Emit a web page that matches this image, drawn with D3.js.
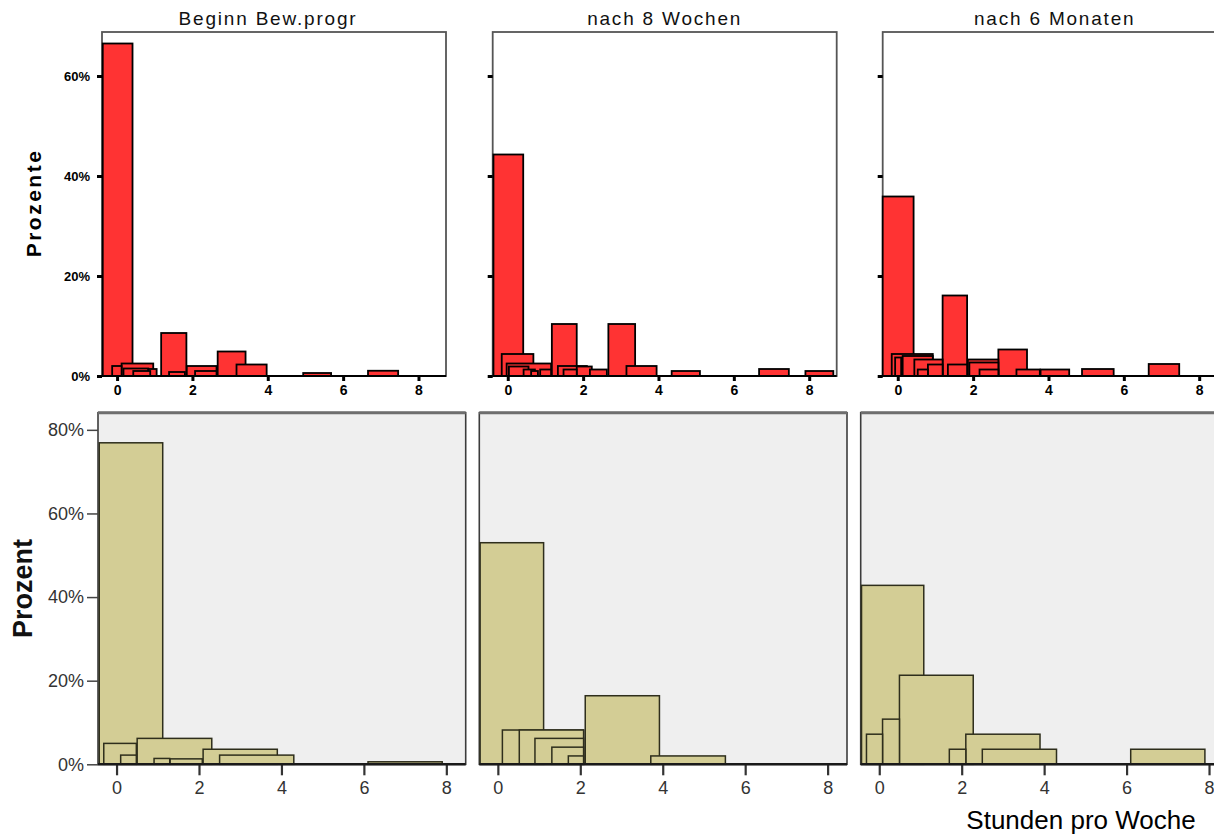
<!DOCTYPE html>
<html>
<head>
<meta charset="utf-8">
<script src="https://cdn.jsdelivr.net/npm/d3@7"></script>
<style>
  html, body { margin: 0; padding: 0; background: #fff; }
  svg { display: block; }
</style>
</head>
<body>
<svg id="chart" width="1214" height="835"></svg>
<script>
// ---------- DATA (hours per week bins: [from, to, percent]) ----------
const panelTitles = ["Beginn Bew.progr", "nach 8 Wochen", "nach 6 Monaten"];

const topBegin = [
  [-0.38, 0.41, 66.5], [1.17, 1.84, 8.6], [2.67, 3.41, 4.9], [0.12, 0.96, 2.5],
  [3.17, 3.97, 2.3], [-0.13, 0.12, 2.0], [1.85, 2.64, 2.0], [0.17, 0.83, 1.5],
  [0.83, 1.05, 1.4], [0.43, 0.88, 1.0], [2.07, 2.64, 1.0], [6.66, 7.46, 1.05],
  [1.38, 1.80, 0.8], [4.94, 5.68, 0.6]
];
const topWeek8 = [
  [-0.38, 0.41, 44.3], [1.17, 1.83, 10.4], [2.67, 3.38, 10.4], [-0.16, 0.68, 4.4],
  [-0.03, 1.15, 2.5], [1.33, 2.10, 2.0], [3.15, 3.95, 2.0], [0.03, 0.55, 1.9],
  [1.83, 2.23, 1.9], [6.67, 7.46, 1.4], [0.42, 0.72, 1.3], [0.86, 1.15, 1.3],
  [1.48, 1.83, 1.3], [2.18, 2.63, 1.3], [0.62, 0.80, 1.0], [4.35, 5.10, 1.0],
  [7.90, 8.64, 1.0]
];
const topMonth6 = [
  [-0.40, 0.42, 35.9], [1.19, 1.84, 16.1], [2.67, 3.43, 5.3], [-0.16, 0.93, 4.4],
  [0.13, 0.93, 4.0], [-0.07, 0.09, 3.7], [0.44, 1.19, 3.3], [1.86, 2.67, 3.3],
  [1.90, 2.67, 2.7], [6.66, 7.47, 2.4], [0.80, 1.19, 2.3], [1.33, 1.84, 2.3],
  [4.89, 5.73, 1.4], [0.53, 0.80, 1.3], [2.17, 2.67, 1.3], [3.15, 3.77, 1.3],
  [3.79, 4.55, 1.3]
];

const bottomBegin = [
  [-0.42, 1.12, 76.9], [0.50, 2.31, 6.2], [-0.31, 0.48, 5.0], [2.10, 3.90, 3.6],
  [0.10, 0.48, 2.2], [2.50, 4.30, 2.2], [0.91, 1.29, 1.4], [1.30, 2.08, 1.3],
  [6.10, 7.90, 0.6]
];
const bottomWeek8 = [
  [-0.43, 1.11, 53.0], [2.12, 3.92, 16.4], [0.11, 2.08, 8.2], [0.52, 2.08, 8.2],
  [0.90, 2.08, 6.2], [1.31, 2.08, 4.1], [1.71, 2.08, 2.0], [3.71, 5.52, 2.0]
];
const bottomMonth6 = [
  [-0.43, 1.08, 42.8], [0.49, 2.28, 21.3], [0.08, 0.49, 10.8], [-0.31, 0.08, 7.2],
  [2.10, 3.90, 7.2], [1.70, 2.10, 3.6], [2.50, 4.30, 3.6], [6.10, 7.90, 3.6]
];

const xTicks = [0, 2, 4, 6, 8];
const topYTicks = [0, 20, 40, 60];
const bottomYTicks = [0, 20, 40, 60, 80];
const topYLabel = "Prozente";
const bottomYLabel = "Prozent";
const xAxisLabel = "Stunden pro Woche";

// ---------- LAYOUT ----------
const svg = d3.select("#chart");
svg.append("rect").attr("width", 1214).attr("height", 835).attr("fill", "#fff");

const topData = [topBegin, topWeek8, topMonth6];
const bottomData = [bottomBegin, bottomWeek8, bottomMonth6];

const upperL = { lefts: [102, 492.7, 882.7], width: 344, y0: 32, y1: 376 };
const lowerL = { lefts: [98, 479.3, 860.7], width: 367.7, y0: 412.7, y1: 764.3 };

const sortDesc = arr => arr.slice().sort((a, b) => b[2] - a[2]);
const FONT = "Liberation Sans, Arial, sans-serif";

// ---------- BOTTOM PANELS ----------
const yBot = d3.scaleLinear().domain([0, 84.1]).range([lowerL.y1, lowerL.y0]);

bottomData.forEach((data, i) => {
  const L = lowerL.lefts[i];
  const x = d3.scaleLinear().domain([-0.45, 8.47]).range([L, L + lowerL.width]);
  const g = svg.append("g");
  g.append("rect").attr("x", L).attr("y", lowerL.y0)
    .attr("width", lowerL.width).attr("height", lowerL.y1 - lowerL.y0)
    .attr("fill", "#efefef").attr("stroke", "#3c3c3c").attr("stroke-width", 1.6);
  g.append("line").attr("x1", L).attr("x2", L + lowerL.width)
    .attr("y1", lowerL.y0).attr("y2", lowerL.y0)
    .attr("stroke", "#6e6e6e").attr("stroke-width", 3);

  g.selectAll("rect.bar").data(sortDesc(data)).join("rect")
    .attr("class", "bar")
    .attr("x", d => x(d[0])).attr("width", d => x(d[1]) - x(d[0]))
    .attr("y", d => yBot(d[2])).attr("height", d => yBot(0) - yBot(d[2]))
    .attr("fill", "#d3cd95").attr("stroke", "#2e2e1c").attr("stroke-width", 1.5);

  const ax = d3.axisBottom(x).tickValues(xTicks).tickSize(11).tickPadding(6)
    .tickFormat(d3.format("d"));
  const axg = g.append("g").attr("transform", `translate(0,${lowerL.y1})`).call(ax);
  axg.select(".domain").remove();
  axg.selectAll(".tick line").attr("stroke", "#333").attr("stroke-width", 2.2);
  axg.selectAll(".tick text").attr("font-family", FONT)
    .attr("font-size", 18).attr("fill", "#333");
  g.append("line").attr("x1", L).attr("x2", L + lowerL.width)
    .attr("y1", lowerL.y1).attr("y2", lowerL.y1)
    .attr("stroke", "#1a1a1a").attr("stroke-width", 2.4);

  if (i === 0) {
    const ay = d3.axisLeft(yBot).tickValues(bottomYTicks).tickSize(11).tickPadding(3)
      .tickFormat(d => d + "%");
    const ayg = g.append("g").attr("transform", `translate(${L},0)`).call(ay);
    ayg.select(".domain").remove();
    ayg.selectAll(".tick line").attr("stroke", "#444").attr("stroke-width", 1.5);
    ayg.selectAll(".tick text").attr("font-family", FONT)
      .attr("font-size", 18).attr("fill", "#333");
    g.append("text")
      .attr("transform", `translate(32,${(lowerL.y0 + lowerL.y1) / 2}) rotate(-90)`)
      .attr("text-anchor", "middle")
      .attr("font-family", FONT)
      .attr("font-weight", "bold").attr("font-size", 27).attr("fill", "#111")
      .text(bottomYLabel);
  }
});

svg.append("text")
  .attr("x", 1081).attr("y", 829)
  .attr("text-anchor", "middle")
  .attr("font-family", FONT)
  .attr("font-size", 26).attr("fill", "#000")
  .text(xAxisLabel);

// ---------- TOP PANELS ----------
const yTop = d3.scaleLinear().domain([0, 68.8]).range([upperL.y1, upperL.y0]);

topData.forEach((data, i) => {
  const L = upperL.lefts[i];
  const x = d3.scaleLinear().domain([-0.4, 8.73]).range([L, L + upperL.width]);
  const g = svg.append("g");

  g.append("text")
    .attr("x", L + upperL.width / 2 + (i === 0 ? -6 : 0)).attr("y", 25)
    .attr("text-anchor", "middle")
    .attr("font-family", FONT)
    .attr("font-size", 19).attr("letter-spacing", 1.8).attr("fill", "#111")
    .text(panelTitles[i]);

  g.append("rect").attr("x", L).attr("y", upperL.y0)
    .attr("width", upperL.width).attr("height", upperL.y1 - upperL.y0)
    .attr("fill", "#fff").attr("stroke", "#555").attr("stroke-width", 1.8);

  g.selectAll("rect.bar").data(sortDesc(data)).join("rect")
    .attr("class", "bar")
    .attr("x", d => x(d[0])).attr("width", d => x(d[1]) - x(d[0]))
    .attr("y", d => yTop(d[2])).attr("height", d => yTop(0) - yTop(d[2]))
    .attr("fill", "#ff3333").attr("stroke", "#000").attr("stroke-width", 1.8);

  g.append("line").attr("x1", L).attr("x2", L + upperL.width)
    .attr("y1", upperL.y1).attr("y2", upperL.y1)
    .attr("stroke", "#000").attr("stroke-width", 2);

  const ax = d3.axisBottom(x).tickValues(xTicks).tickSize(5).tickPadding(4)
    .tickFormat(d3.format("d"));
  const axg = g.append("g").attr("transform", `translate(0,${upperL.y1})`).call(ax);
  axg.select(".domain").remove();
  axg.selectAll(".tick line").attr("stroke", "#000").attr("stroke-width", 3);
  axg.selectAll(".tick text").attr("font-family", FONT)
    .attr("font-weight", "bold").attr("font-size", 14).attr("fill", "#000");

  const ay = d3.axisLeft(yTop).tickValues(topYTicks).tickSize(5).tickPadding(7)
    .tickFormat(d => i === 0 ? d + "%" : "");
  const ayg = g.append("g").attr("transform", `translate(${L},0)`).call(ay);
  ayg.select(".domain").remove();
  ayg.selectAll(".tick line").attr("stroke", "#000").attr("stroke-width", 3);
  ayg.selectAll(".tick text").attr("font-family", FONT)
    .attr("font-weight", "bold").attr("font-size", 13).attr("fill", "#000");

  if (i === 0) {
    g.append("text")
      .attr("transform", `translate(41,203) rotate(-90)`)
      .attr("text-anchor", "middle")
      .attr("font-family", FONT)
      .attr("font-weight", "bold").attr("font-size", 21).attr("letter-spacing", 2.5)
      .attr("fill", "#000")
      .text(topYLabel);
  }
});
</script>
</body>
</html>
